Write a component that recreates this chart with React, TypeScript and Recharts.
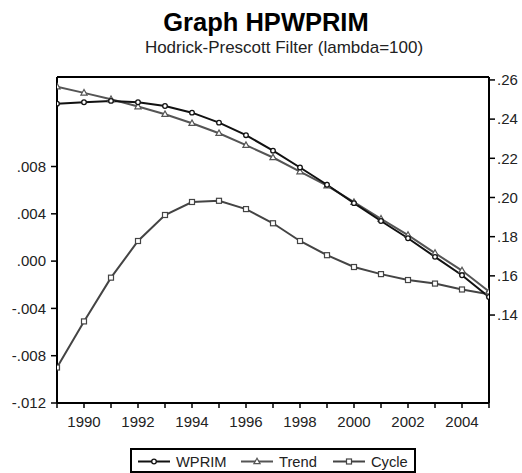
import React from 'react';
import { ComposedChart, Line, XAxis, YAxis, ReferenceLine } from 'recharts';

const years = [1989, 1990, 1991, 1992, 1993, 1994, 1995, 1996, 1997, 1998, 1999, 2000, 2001, 2002, 2003, 2004, 2005];
const wprim = [0.2479, 0.2486, 0.2493, 0.2486, 0.2467, 0.2433, 0.2382, 0.2318, 0.2239, 0.2153, 0.2065, 0.1971, 0.1880, 0.1792, 0.1697, 0.1603, 0.1492];
const trend = [0.2566, 0.2534, 0.2501, 0.2464, 0.2425, 0.2379, 0.2328, 0.2267, 0.2204, 0.2132, 0.2060, 0.1976, 0.1891, 0.1808, 0.1716, 0.1627, 0.1520];
const cycle = [-0.0090, -0.0051, -0.0014, 0.0017, 0.0039, 0.0050, 0.0051, 0.0044, 0.0032, 0.0017, 0.0005, -0.0005, -0.0011, -0.0016, -0.0019, -0.0024, -0.0028];

const leftTicks = [-0.012, -0.008, -0.004, 0, 0.004, 0.008];
const rightTicks = [0.14, 0.16, 0.18, 0.2, 0.22, 0.24, 0.26];
const xTicks = years;
const leftDomain = [-0.012, 0.01557];
const rightDomain = [0.0951, 0.2615];

const data = years.map((y, i) => ({ year: y, WPRIM: wprim[i], Trend: trend[i], Cycle: cycle[i] }));

const FONT = '"Liberation Sans", Arial, Helvetica, sans-serif';
const C_WPRIM = '#111111';
const C_TREND = '#555555';
const C_CYCLE = '#444444';

const fmtLeft = (v: number) => {
  const s = Math.abs(v).toFixed(3).replace(/^0/, '');
  return v < -1e-9 ? '-' + s : s;
};
const fmtRight = (v: number) => v.toFixed(2).replace(/^0/, '');
const fmtYear = (v: number) => (v % 2 === 0 ? String(v) : '');

const circleDot = (color: string) => (p: any) => (
  <circle key={'c' + p.index} cx={p.cx} cy={p.cy} r={2.3} fill="#fff" stroke={color} strokeWidth={1.3} />
);
const triDot = (color: string) => (p: any) => (
  <polygon
    key={'t' + p.index}
    points={`${p.cx},${p.cy - 3.3} ${p.cx - 3.1},${p.cy + 2.2} ${p.cx + 3.1},${p.cy + 2.2}`}
    fill="#fff"
    stroke={color}
    strokeWidth={1.2}
  />
);
const sqDot = (color: string) => (p: any) => (
  <rect key={'s' + p.index} x={p.cx - 2.5} y={p.cy - 2.5} width={5} height={5} fill="#fff" stroke={color} strokeWidth={1.2} />
);

const tickStyle = { fill: '#222', fontSize: 15, fontFamily: FONT };

const LegendItem = ({ x, label, color, kind }: { x: number; label: string; color: string; kind: string }) => {
  const cx = x + 16;
  const cy = 461.5;
  let marker;
  if (kind === 'circle') marker = <circle cx={cx} cy={cy} r={2.3} fill="#fff" stroke={color} strokeWidth={1.3} />;
  else if (kind === 'tri')
    marker = <polygon points={`${cx},${cy - 3.3} ${cx - 3.1},${cy + 2.2} ${cx + 3.1},${cy + 2.2}`} fill="#fff" stroke={color} strokeWidth={1.2} />;
  else marker = <rect x={cx - 2.5} y={cy - 2.5} width={5} height={5} fill="#fff" stroke={color} strokeWidth={1.2} />;
  return (
    <g>
      <line x1={x} y1={cy} x2={x + 32} y2={cy} stroke={color} strokeWidth={2} />
      {marker}
      <text x={x + 38} y={cy + 5.2} fontSize={14.7} fontFamily={FONT} fill="#222">
        {label}
      </text>
    </g>
  );
};

export default function App() {
  return (
    <div style={{ position: 'absolute', left: 0, top: 0, width: 522, height: 473, background: '#fff' }}>
      <ComposedChart
        width={522}
        height={473}
        data={data}
        margin={{ top: 77, right: 0, bottom: 40, left: 0 }}
      >
        <XAxis
          dataKey="year"
          type="number"
          domain={[1989, 2005]}
          ticks={xTicks}
          interval={0}
          tickFormatter={fmtYear}
          height={30}
          axisLine={{ stroke: '#000', strokeWidth: 2 }}
          tickLine={{ stroke: '#000', strokeWidth: 1.5 }}
          tickSize={5}
          tickMargin={8}
          tick={tickStyle}
          allowDataOverflow
        />
        <YAxis
          yAxisId="left"
          orientation="left"
          width={57}
          domain={leftDomain}
          ticks={leftTicks}
          interval={0}
          tickFormatter={fmtLeft}
          axisLine={{ stroke: '#000', strokeWidth: 2 }}
          tickLine={{ stroke: '#000', strokeWidth: 1.5 }}
          tickSize={6}
          tickMargin={5}
          tick={tickStyle}
          allowDataOverflow
        />
        <YAxis
          yAxisId="right"
          orientation="right"
          width={33}
          domain={rightDomain}
          ticks={rightTicks}
          interval={0}
          tickFormatter={fmtRight}
          axisLine={{ stroke: '#000', strokeWidth: 2 }}
          tickLine={{ stroke: '#000', strokeWidth: 1.5 }}
          tickSize={6}
          tickMargin={2}
          tick={tickStyle}
          allowDataOverflow
        />
        <ReferenceLine yAxisId="left" y={leftDomain[1]} stroke="#000" strokeWidth={2} />
        <Line
          yAxisId="left"
          dataKey="Cycle"
          type="linear"
          stroke={C_CYCLE}
          strokeWidth={2}
          dot={sqDot(C_CYCLE)}
          isAnimationActive={false}
        />
        <Line
          yAxisId="right"
          dataKey="Trend"
          type="linear"
          stroke={C_TREND}
          strokeWidth={2}
          dot={triDot(C_TREND)}
          isAnimationActive={false}
        />
        <Line
          yAxisId="right"
          dataKey="WPRIM"
          type="linear"
          stroke={C_WPRIM}
          strokeWidth={2}
          dot={circleDot(C_WPRIM)}
          isAnimationActive={false}
        />
      </ComposedChart>
      <svg
        width={522}
        height={473}
        style={{ position: 'absolute', left: 0, top: 0, pointerEvents: 'none' }}
      >
        <text x={266} y={31} textAnchor="middle" fontSize={25.5} fontWeight="bold" fontFamily={FONT} fill="#000">
          Graph HPWPRIM
        </text>
        <text x={284} y={53} textAnchor="middle" fontSize={17} fontFamily={FONT} fill="#222">
          Hodrick-Prescott Filter (lambda=100)
        </text>
        <rect x={131} y={449} width={284} height={23} fill="#fff" stroke="#000" strokeWidth={2} />
        <LegendItem x={138} label="WPRIM" color={C_WPRIM} kind="circle" />
        <LegendItem x={241} label="Trend" color={C_TREND} kind="tri" />
        <LegendItem x={333} label="Cycle" color={C_CYCLE} kind="square" />
      </svg>
    </div>
  );
}
